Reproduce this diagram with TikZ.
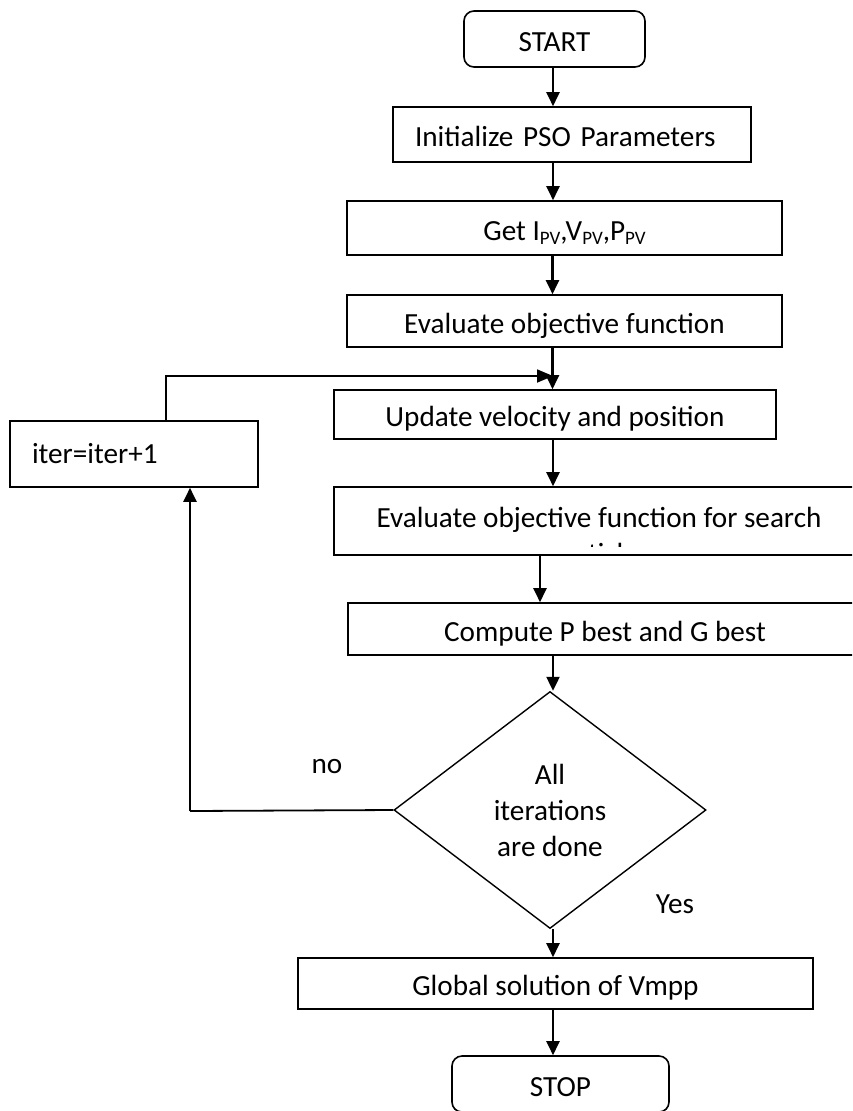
\documentclass[tikz,border=0pt]{standalone}
\usepackage{fontspec}
\setmainfont{Carlito}
\usetikzlibrary{shapes.geometric,arrows.meta}
\newcommand{\pvs}[1]{\raisebox{-0.17em}{\fontsize{19}{19}\selectfont #1}}
\begin{document}
\begin{tikzpicture}[x=1pt,y=-1pt,
  every node/.style={font=\fontsize{29.2}{36}\selectfont},
  box/.style={draw, line width=1.6pt, inner sep=0pt, text height=24pt, text depth=0pt},
  term/.style={box, rounded corners=10pt},
  arr/.style={line width=2.2pt, -{Triangle[length=14pt,width=13pt]}},
  thinline/.style={line width=1.8pt}
]
\useasboundingbox (0,0) rectangle (852,1111);
\clip (0,0) rectangle (852,1111);

\node[term, minimum width=181pt, minimum height=56pt] (start) at (554.5,39) {START};
\node[box, minimum width=358pt, minimum height=55pt, text width=314pt, align=left, inner xsep=22pt] (init) at (572,134.5) {Initialize PSO Parameters};
\node[box, minimum width=435pt, minimum height=54pt] (get) at (564.5,228) {Get I\pvs{PV},V\pvs{PV},P\pvs{PV}};
\node[box, minimum width=435pt, minimum height=52pt] (eval) at (564.5,321) {Evaluate objective function};
\node[box, minimum width=442pt, minimum height=49pt] (update) at (555,414.5) {Update velocity and position};
\node[box, minimum width=530pt, minimum height=68pt, text height=12pt] (eval2) at (599,521) {Evaluate objective function for search};
\begin{scope}
  \clip (334,487) rectangle (864,546);
  \node[anchor=base, inner sep=0pt] (eval2b) at (599,563) {particles};
\end{scope}
\node[box, minimum width=514pt, minimum height=52pt] (compute) at (605,629) {Compute P best and G best};
\node[diamond, draw, line width=1.4pt, aspect=1.316, minimum width=312pt, minimum height=237pt, inner sep=0pt] (dec) at (550,810) {};
\node[align=center, inner sep=0pt] (dectext) at (550,810.5) {All\\iterations\\are done};
\node[box, minimum width=515pt, minimum height=51pt] (global) at (555.5,983.5) {Global solution of Vmpp};
\node[term, minimum width=217pt, minimum height=56pt] (stop) at (560.5,1084) {STOP};
\node[box, minimum width=248pt, minimum height=66pt, text width=204pt, align=left, inner xsep=22pt, text height=18pt] (iter) at (134,454) {iter=iter+1};

\node (no) at (327,767) {no};
\node (yes) at (675,904) {Yes};

\draw[arr] ([xshift=-1.5pt]start.south) -- ([xshift=-1.5pt]start.south |- init.north);
\draw[arr] ([xshift=-19pt]init.south) -- ([xshift=-19pt]init.south |- get.north);
\draw[arr] ([xshift=-12pt]get.south) -- ([xshift=-12pt]get.south |- eval.north);
\draw[arr] ([xshift=-12pt]eval.south) -- ([xshift=-12pt]eval.south |- update.north);
\draw[arr] ([xshift=-2pt]update.south) -- ([xshift=-2pt]update.south |- eval2.north);
\draw[arr] ([xshift=-59pt]eval2.south) -- ([xshift=-59pt]eval2.south |- compute.north);
\draw[arr] ([xshift=-52pt]compute.south) -- ([xshift=-52pt]compute.south |- dec.north);
\draw[arr] ([xshift=3pt]dec.south) -- ([xshift=3pt]dec.south |- global.north);
\draw[arr] ([xshift=-2.5pt]global.south) -- ([xshift=-2.5pt]global.south |- stop.north);

\coordinate (fb) at (553,376);
\draw[thinline, -{Triangle[length=16pt,width=13pt]}] ([xshift=32pt]iter.north) |- (fb);

\coordinate (nocorner) at (190,811);
\draw[thinline] (dec.west) -- (nocorner);
\draw[arr] (nocorner) -- (nocorner |- iter.south);
\end{tikzpicture}
\end{document}
